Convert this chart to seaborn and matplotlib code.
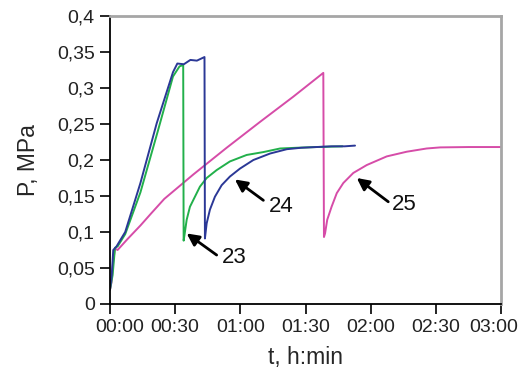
import matplotlib
matplotlib.use("Agg")
import matplotlib.pyplot as plt
import matplotlib.transforms as mtransforms
import seaborn as sns
import pandas as pd

# ---- data (time in minutes, pressure in MPa) ----
blue_t = [0, 0.8, 1.5, 3, 7, 14, 21.5, 29, 31, 34, 37, 40, 43.5, 43.7, 44.5, 46, 48.3, 51.4, 55.2, 59.8, 66, 73.7, 81.4, 88, 95, 102, 108, 112.8]
blue_p = [0.02, 0.04, 0.075, 0.08, 0.1, 0.168, 0.251, 0.322, 0.334, 0.333, 0.339, 0.338, 0.343, 0.091, 0.112, 0.131, 0.149, 0.165, 0.177, 0.188, 0.2, 0.209, 0.215, 0.217, 0.218, 0.219, 0.219, 0.22]

green_t = [0, 1.2, 2.3, 3.5, 7, 14, 22, 29, 32, 33.7, 33.9, 34.3, 35.3, 36.8, 39.1, 41.4, 44.5, 49.1, 55.2, 62.9, 70.6, 78.3, 86, 95, 107]
green_p = [0.02, 0.04, 0.078, 0.08, 0.097, 0.155, 0.24, 0.316, 0.33, 0.332, 0.088, 0.096, 0.117, 0.135, 0.149, 0.163, 0.175, 0.186, 0.198, 0.207, 0.211, 0.216, 0.217, 0.218, 0.219]

mag_t = [0, 0.7, 1.5, 2.3, 3.5, 8, 14, 19, 25, 38.4, 53.7, 69.1, 84.4, 98.2, 98.5, 99, 100, 102, 104.4, 107.4, 112, 118.2, 127.4, 136.6, 145.8, 152, 165, 180]
mag_p = [0.02, 0.03, 0.06, 0.077, 0.075, 0.09, 0.109, 0.126, 0.146, 0.18, 0.217, 0.253, 0.288, 0.321, 0.093, 0.098, 0.117, 0.135, 0.154, 0.168, 0.182, 0.193, 0.205, 0.2115, 0.216, 0.2175, 0.218, 0.218]

x_ticks = [0, 30, 60, 90, 120, 150, 180]
x_labels = ["00:00", "00:30", "01:00", "01:30", "02:00", "02:30", "03:00"]
y_ticks = [0, 0.05, 0.1, 0.15, 0.2, 0.25, 0.3, 0.35, 0.4]
y_labels = ["0", "0,05", "0,1", "0,15", "0,2", "0,25", "0,3", "0,35", "0,4"]

labels = ["23", "24", "25"]
arrow_heads = [(35.3, 0.098), (57.5, 0.173), (113.6, 0.175)]
arrow_tails = [(49.1, 0.068), (70.6, 0.144), (128.1, 0.142)]
label_pos = [(57.1, 0.064), (78.7, 0.136), (135.4, 0.1375)]

# ---- plot ----
sns.set_theme(style="white")
plt.rcParams["font.family"] = ["Liberation Sans", "DejaVu Sans"]

fig = plt.figure(figsize=(5.21, 3.80), dpi=100)
ax = fig.add_axes([110 / 521, 76 / 380, 391 / 521, 288 / 380])

series = [
    (mag_t, mag_p, "#d64ca8"),
    (green_t, green_p, "#22b04b"),
    (blue_t, blue_p, "#2b3896"),
]
for t, p, c in series:
    df = pd.DataFrame({"t": t, "p": p})
    sns.lineplot(data=df, x="t", y="p", sort=False, estimator=None,
                 color=c, linewidth=1.4, ax=ax)

for lab, hd, tl, lp in zip(labels, arrow_heads, arrow_tails, label_pos):
    ax.annotate("", xy=hd, xytext=tl,
                arrowprops=dict(arrowstyle="-|>,head_length=0.6,head_width=0.3",
                                color="black", lw=2, shrinkA=0, shrinkB=0))
    ax.text(lp[0], lp[1], lab, fontsize=16, ha="center", va="center", color="#111111")

ax.set_xlim(0, 180)
ax.set_ylim(0, 0.4)
ax.set_xticks(x_ticks)
ax.set_xticklabels(x_labels, fontsize=14)
ax.set_yticks(y_ticks)
ax.set_yticklabels(y_labels, fontsize=14)
ax.set_xlabel("t, h:min", fontsize=16.5, labelpad=7)
ax.set_ylabel("P, MPa", fontsize=16.5, labelpad=12)

ax.tick_params(axis="both", direction="out", length=7, width=1.2, color="black",
               labelcolor="#222222", bottom=True, left=True)
ax.tick_params(axis="x", pad=4)
ax.tick_params(axis="y", pad=4)
for s in ["left", "bottom"]:
    ax.spines[s].set_color("black")
    ax.spines[s].set_linewidth(1.3)
for s in ["top", "right"]:
    ax.spines[s].set_color("#a6a6a6")
    ax.spines[s].set_linewidth(2)
ax.grid(False)

# shift edge tick labels inward like the original
xt = ax.get_xticklabels()
xt[0].set_transform(xt[0].get_transform() + mtransforms.ScaledTranslation(10 / 100, 0, fig.dpi_scale_trans))
xt[-1].set_transform(xt[-1].get_transform() + mtransforms.ScaledTranslation(-7 / 100, 0, fig.dpi_scale_trans))

fig.savefig("out.png", dpi=100)
